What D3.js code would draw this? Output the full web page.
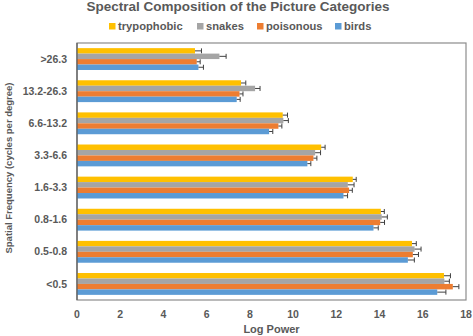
<!DOCTYPE html>
<html>
<head>
<meta charset="utf-8">
<script src="https://cdn.jsdelivr.net/npm/d3@7"></script>
<style>
  body { margin: 0; background: #fff; }
  text { font-family: "Liberation Sans", Arial, sans-serif; font-weight: bold; fill: #595959; }
</style>
</head>
<body>
<svg id="chart" width="473" height="336"></svg>
<script>
'use strict';

var categories = ['>26.3', '13.2-26.3', '6.6-13.2', '3.3-6.6', '1.6-3.3', '0.8-1.6', '0.5-0.8', '<0.5'];
var seriesNames = ['trypophobic', 'snakes', 'poisonous', 'birds'];

var trypophobic = [5.46, 7.59, 9.52, 11.3, 12.76, 14.06, 15.5, 16.98];
var snakes      = [6.59, 8.24, 9.55, 11.02, 12.53, 14.1, 15.62, 17.0];
var poisonous   = [5.54, 7.52, 9.32, 10.94, 12.59, 14.03, 15.54, 17.39];
var birds       = [5.62, 7.39, 8.89, 10.66, 12.33, 13.72, 15.31, 16.67];

var trypophobicErr = [0.3, 0.22, 0.22, 0.18, 0.16, 0.16, 0.2, 0.3];
var snakesErr      = [0.31, 0.23, 0.23, 0.25, 0.29, 0.26, 0.3, 0.23];
var poisonousErr   = [0.16, 0.16, 0.16, 0.16, 0.15, 0.2, 0.26, 0.28];
var birdsErr       = [0.23, 0.16, 0.17, 0.16, 0.19, 0.22, 0.3, 0.4];

var xTicks = [0, 2, 4, 6, 8, 10, 12, 14, 16, 18];

var colors = ['#FFC000', '#A5A5A5', '#ED7D31', '#5B9BD5'];

var values = [trypophobic, snakes, poisonous, birds];
var errors = [trypophobicErr, snakesErr, poisonousErr, birdsErr];

var svg = d3.select('#chart');

var margin = {left: 77, right: 7, top: 43, bottom: 36},
    width = 473 - margin.left - margin.right,
    height = 336 - margin.top - margin.bottom;

var x = d3.scaleLinear().domain([0, 18]).range([0, width]);
var y = d3.scaleBand().domain(categories).range([0, height]).paddingInner(0.32).paddingOuter(0.16);
var ySub = d3.scaleBand().domain(seriesNames).range([0, y.bandwidth()]);

var g = svg.append('g').attr('transform', 'translate(' + margin.left + ',' + margin.top + ')');

// plot frame
g.append('rect')
    .attr('x', 0).attr('y', 0)
    .attr('width', width).attr('height', height)
    .attr('fill', 'none')
    .attr('stroke', '#8c8c8c')
    .attr('stroke-width', 1.2);

// bars
var groups = g.selectAll('g.cat')
    .data(categories)
    .enter().append('g')
    .attr('class', 'cat')
    .attr('transform', function(d) { return 'translate(0,' + y(d) + ')'; });

groups.each(function(cat, ci) {
    var s = d3.select(this);
    seriesNames.forEach(function(name, si) {
        var v = values[si][ci],
            e = errors[si][ci],
            yy = ySub(name),
            h = ySub.bandwidth();

        s.append('rect')
            .attr('x', 0)
            .attr('y', yy)
            .attr('width', x(v))
            .attr('height', h)
            .attr('fill', colors[si]);

        var ym = yy + h / 2;
        s.append('line')
            .attr('x1', x(v)).attr('x2', x(v + e))
            .attr('y1', ym).attr('y2', ym)
            .attr('stroke', '#404040').attr('stroke-width', 1);
        s.append('line')
            .attr('x1', x(v + e)).attr('x2', x(v + e))
            .attr('y1', ym - 2.5).attr('y2', ym + 2.5)
            .attr('stroke', '#404040').attr('stroke-width', 1);
    });
});

// left axis line
g.append('line')
    .attr('x1', 0).attr('x2', 0)
    .attr('y1', 0).attr('y2', height)
    .attr('stroke', '#595959').attr('stroke-width', 1.2);

// x axis labels
g.selectAll('text.xt')
    .data(xTicks)
    .enter().append('text')
    .attr('class', 'xt')
    .attr('x', function(d) { return x(d); })
    .attr('y', height + 18)
    .attr('text-anchor', 'middle')
    .style('font-size', '10.5px')
    .text(function(d) { return d; });

// y axis labels
g.selectAll('text.yt')
    .data(categories)
    .enter().append('text')
    .attr('class', 'yt')
    .attr('x', -10)
    .attr('y', function(d) { return y(d) + y.bandwidth() / 2; })
    .attr('dy', '0.35em')
    .attr('text-anchor', 'end')
    .style('font-size', '10.5px')
    .text(function(d) { return d; });

// axis titles
svg.append('text')
    .attr('x', margin.left + width / 2)
    .attr('y', 333)
    .attr('text-anchor', 'middle')
    .style('font-size', '11px')
    .text('Log Power');

svg.append('text')
    .attr('transform', 'translate(12,168) rotate(-90)')
    .attr('text-anchor', 'middle')
    .style('font-size', '9.5px')
    .text('Spatial Frequency (cycles per degree)');

// title
svg.append('text')
    .attr('x', 238)
    .attr('y', 11)
    .attr('text-anchor', 'middle')
    .style('font-size', '13.5px')
    .text('Spectral Composition of the Picture Categories');

// legend
var legendX = [109, 197, 257, 335];
var legend = svg.selectAll('g.legend')
    .data(seriesNames)
    .enter().append('g')
    .attr('class', 'legend')
    .attr('transform', function(d, i) { return 'translate(' + legendX[i] + ',26.5)'; });

legend.append('rect')
    .attr('x', 0).attr('y', -3.5)
    .attr('width', 6.5).attr('height', 6.5)
    .attr('fill', function(d, i) { return colors[i]; });

legend.append('text')
    .attr('x', 9)
    .attr('y', 0)
    .attr('dy', '0.35em')
    .style('font-size', '11.2px')
    .text(function(d) { return d; });
</script>
</body>
</html>
